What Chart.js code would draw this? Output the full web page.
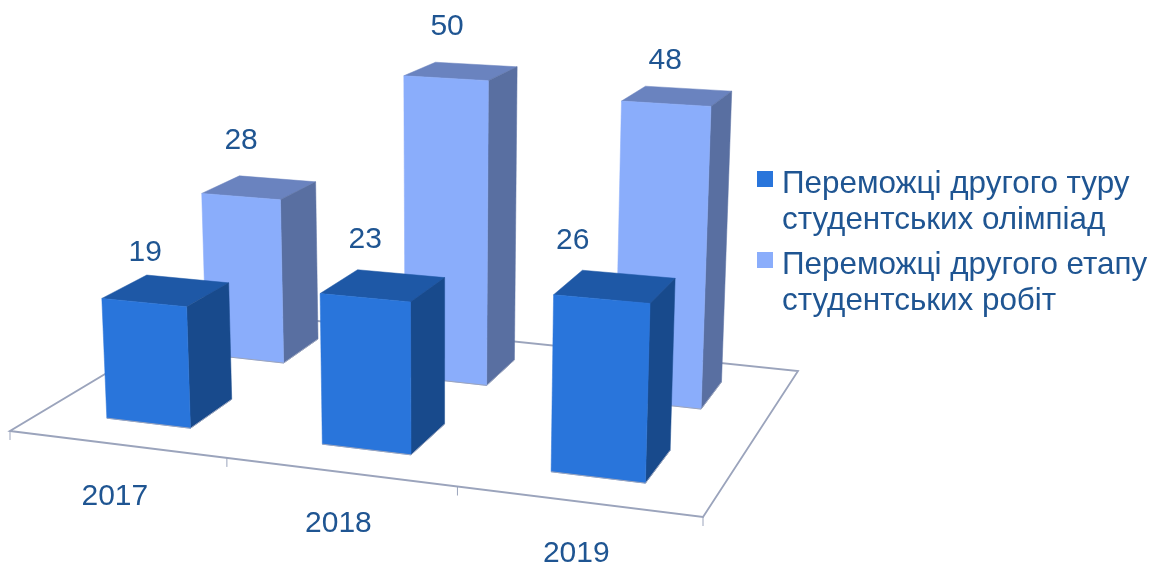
<!DOCTYPE html>
<html lang="uk">
<head>
    <meta charset="UTF-8">
    <title>Переможці олімпіад та конкурсів</title>
    <style>
        html, body { margin: 0; padding: 0; background: #fff; overflow: hidden; }
        canvas { display: block; }
    </style>
    <script src="https://cdn.jsdelivr.net/npm/chart.js"></script>
</head>
<body>
    <canvas id="chart" width="1153" height="567"></canvas>
    <script>
        // Data
        const years = ['2017', '2018', '2019'];
        const olympiadWinners = [19, 23, 26];
        const workWinners = [28, 50, 48];
        const olympiadLegend = ['Переможці другого туру', 'студентських олімпіад'];
        const workLegend = ['Переможці другого етапу', 'студентських робіт'];

        // Colours: front, side, top of each box
        const olympiadColors = ['#2975db', '#184a8c', '#1e58a6'];
        const workColors = ['#8aadfb', '#596fa1', '#6a83bf'];
        const textColor = '#1f5592';
        const floorColor = '#9ba4bc';
        const fontFamily = '"Liberation Sans", Arial, sans-serif';

        // Floor of the 3D scene, pixel corners of the unit square (u along years, v into the page)
        const floorQuad = [[10, 431], [703, 517], [798, 371], [212, 310]];
        const boxDepth = 0.105;      // half depth of a box, in v
        const vanishX = 440;         // vertical lines converge slightly downwards
        const vanishDist = 8000;
        const depthGain = 0.0015;    // closer boxes have taller units
        const heightGain = 0.00008;  // so do the upper parts of tall boxes
        const baseY = 385;           // where y scale 0 sits

        // Hand placed value labels in the original, offset from the front top edge
        const labelDx = [[1, 0, -29], [0, 1, -1]];
        const labelDy = [[-50, -58, -58], [-56, -51, -43]];

        function makeFloor(q) {
            const dx1 = q[1][0] - q[2][0], dx2 = q[3][0] - q[2][0], sx = q[0][0] - q[1][0] + q[2][0] - q[3][0];
            const dy1 = q[1][1] - q[2][1], dy2 = q[3][1] - q[2][1], sy = q[0][1] - q[1][1] + q[2][1] - q[3][1];
            const det = dx1 * dy2 - dx2 * dy1;
            const g = (sx * dy2 - dx2 * sy) / det;
            const h = (dx1 * sy - sx * dy1) / det;
            return (u, v) => {
                const w = 1 + g * u + h * v;
                return {
                    x: (q[0][0] + (q[1][0] - q[0][0] + g * q[1][0]) * u + (q[3][0] - q[0][0] + h * q[3][0]) * v) / w,
                    y: (q[0][1] + (q[1][1] - q[0][1] + g * q[1][1]) * u + (q[3][1] - q[0][1] + h * q[3][1]) * v) / w
                };
            };
        }
        const floorPoint = makeFloor(floorQuad);

        // Lift a floor point by a height given in y scale pixels
        function lift(p, px) {
            const h = px * (1 + px * heightGain) * (1 + (p.y - baseY) * depthGain);
            return { x: p.x + (p.x - vanishX) * h / vanishDist, y: p.y - h };
        }

        function boxCorners(chart, bar, datasetIndex) {
            const area = chart.chartArea;
            const u = (bar.x - area.left) / area.width;
            const du = bar.width / 2 / area.width;
            const v = (datasetIndex + 0.5) / chart.data.datasets.length;
            const px = bar.base - bar.y;
            const fl = floorPoint(u - du, v - boxDepth), fr = floorPoint(u + du, v - boxDepth);
            const bl = floorPoint(u - du, v + boxDepth), br = floorPoint(u + du, v + boxDepth);
            return { fl, fr, bl, br, tfl: lift(fl, px), tfr: lift(fr, px), tbl: lift(bl, px), tbr: lift(br, px) };
        }

        function face(ctx, pts, color) {
            ctx.beginPath();
            pts.forEach((p, i) => i ? ctx.lineTo(p.x, p.y) : ctx.moveTo(p.x, p.y));
            ctx.closePath();
            ctx.fillStyle = color;
            ctx.strokeStyle = color;
            ctx.lineWidth = 0.5;
            ctx.fill();
            ctx.stroke();
        }

        // Bar controller that paints each bar as a box standing on the floor
        class Bar3DController extends Chart.BarController {
            draw() {
                const chart = this.chart, ctx = chart.ctx;
                const colors = this.getDataset().faceColors;
                this.getMeta().data.forEach(bar => {
                    const c = boxCorners(chart, bar, this.index);
                    face(ctx, [c.tbl, c.tbr, c.tfr, c.tfl], colors[2]);
                    face(ctx, [c.tfr, c.tbr, c.br, c.fr], colors[1]);
                    face(ctx, [c.tfl, c.tfr, c.fr, c.fl], colors[0]);
                    ctx.beginPath();
                    ctx.moveTo(c.fl.x, c.fl.y);
                    ctx.lineTo(c.fr.x, c.fr.y);
                    ctx.lineTo(c.br.x, c.br.y);
                    ctx.strokeStyle = floorColor;
                    ctx.lineWidth = 1;
                    ctx.stroke();
                });
            }
        }
        Bar3DController.id = 'bar3d';
        Bar3DController.defaults = Chart.BarController.defaults;
        Bar3DController.overrides = Chart.BarController.overrides;
        Chart.register(Bar3DController);

        const floorPlugin = {
            id: 'floor',
            beforeDatasetsDraw(chart) {
                const ctx = chart.ctx, n = chart.data.labels.length;
                ctx.save();
                ctx.strokeStyle = floorColor;
                ctx.lineWidth = 1.8;
                ctx.beginPath();
                floorQuad.forEach((p, i) => i ? ctx.lineTo(p[0], p[1]) : ctx.moveTo(p[0], p[1]));
                ctx.closePath();
                ctx.stroke();
                ctx.lineWidth = 1;
                ctx.beginPath();
                for (let i = 0; i <= n; i++) {
                    const p = floorPoint(i / n, 0);
                    ctx.moveTo(p.x, p.y);
                    ctx.lineTo(p.x, p.y + 9);
                }
                ctx.stroke();
                ctx.restore();
            }
        };

        const textPlugin = {
            id: 'texts',
            afterDatasetsDraw(chart) {
                const ctx = chart.ctx, area = chart.chartArea, xScale = chart.scales.x;
                ctx.save();
                ctx.fillStyle = textColor;
                ctx.font = '30px ' + fontFamily;
                ctx.textAlign = 'center';
                ctx.textBaseline = 'middle';

                // year labels below the front edge
                chart.data.labels.forEach((label, i) => {
                    const u = (xScale.getPixelForValue(i) - area.left) / area.width;
                    const p = floorPoint(u, 0);
                    ctx.fillText(label, p.x - 2, p.y + 52);
                });

                // values above the boxes
                chart.data.datasets.forEach((ds, d) => {
                    chart.getDatasetMeta(d).data.forEach((bar, i) => {
                        const c = boxCorners(chart, bar, d);
                        const x = (c.tfl.x + c.tfr.x) / 2 + labelDx[d][i];
                        const y = (c.tfl.y + c.tfr.y) / 2 + labelDy[d][i];
                        ctx.fillText(ds.data[i], x, y);
                    });
                });

                // legend on the right
                ctx.font = '31.4px ' + fontFamily;
                ctx.textAlign = 'left';
                ctx.textBaseline = 'alphabetic';
                let top = 171;
                chart.data.datasets.forEach(ds => {
                    ctx.fillStyle = ds.faceColors[0];
                    ctx.fillRect(757, top, 16, 16);
                    ctx.fillStyle = textColor;
                    ds.legendLines.forEach((line, i) => ctx.fillText(line, 782, top + 22 + i * 36));
                    top += 81;
                });
                ctx.restore();
            }
        };

        new Chart(document.getElementById('chart'), {
            type: 'bar3d',
            data: {
                labels: years,
                datasets: [
                    { label: olympiadLegend.join(' '), data: olympiadWinners, faceColors: olympiadColors, legendLines: olympiadLegend, backgroundColor: olympiadColors[0], clip: false },
                    { label: workLegend.join(' '), data: workWinners, faceColors: workColors, legendLines: workLegend, backgroundColor: workColors[0], clip: false }
                ]
            },
            options: {
                responsive: false,
                animation: false,
                grouped: false,
                categoryPercentage: 1,
                barPercentage: 0.395,
                layout: { padding: { left: 10, right: 355, top: 28, bottom: 182 } },
                plugins: { legend: { display: false }, tooltip: { enabled: false } },
                scales: {
                    x: { type: 'category', display: false, offset: true },
                    y: { type: 'linear', display: false, min: 0, max: 60 }
                }
            },
            plugins: [floorPlugin, textPlugin]
        });
    </script>
</body>
</html>
